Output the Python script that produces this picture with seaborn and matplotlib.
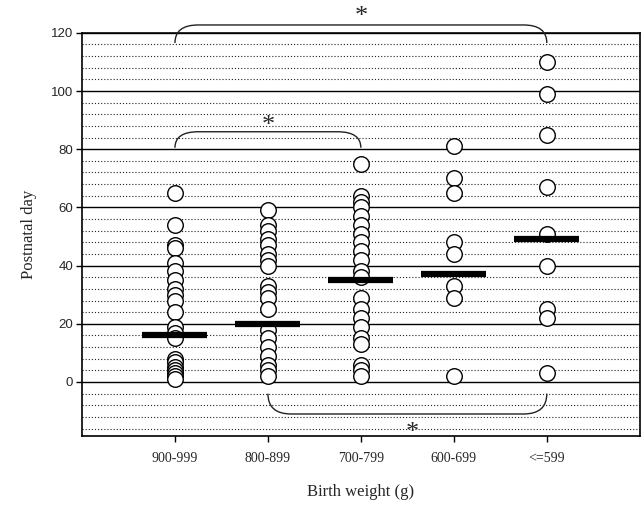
#Dias pós-natais por grupo de peso ao nascer
import numpy as np
import pandas as pd
import matplotlib.pyplot as plt
import seaborn as sb
from matplotlib.path import Path
from matplotlib.patches import PathPatch

#Dados
grupos = ['900-999', '800-899', '700-799', '600-699', '<=599']
dias_900 = [65, 54, 47, 46, 41, 38, 35, 32, 30, 28, 24, 19, 17, 15, 8, 7, 5, 4, 3, 2, 1]
dias_800 = [59, 54, 52, 49, 47, 44, 42, 40, 33, 31, 29, 25, 18, 15, 12, 9, 6, 4, 2]
dias_700 = [75, 64, 62, 60, 57, 54, 51, 48, 45, 42, 38, 36, 29, 25, 22, 19, 15, 13, 6, 4, 2]
dias_600 = [81, 70, 65, 48, 44, 33, 29, 2]
dias_599 = [110, 99, 85, 67, 51, 40, 25, 22, 3]
medianas = [16, 20, 35, 37, 49]

todos = [dias_900, dias_800, dias_700, dias_600, dias_599]
df = pd.DataFrame({
    'grupo': [g for g, d in zip(grupos, todos) for _ in d],
    'dia': [v for d in todos for v in d],
})

sb.set_style('white')
plt.rcParams['font.family'] = ['Liberation Serif', 'DejaVu Serif']

fig, ax = plt.subplots(figsize=(6.43, 5.05), dpi=100)
fig.subplots_adjust(left=0.1275, right=0.995, bottom=0.137, top=0.935)

sb.stripplot(data=df, x='grupo', y='dia', order=grupos, jitter=False,
             color='white', edgecolor='black', linewidth=1, size=11.2,
             ax=ax, zorder=3)

#Barras das medianas
pos = np.arange(len(grupos))
ax.hlines(medianas, pos - 0.35, pos + 0.35, colors='black', linewidth=4.5, zorder=4)

ax.set_xlim(-1, 5)
ax.set_ylim(-18.5, 120)
ax.set_yticks(range(0, 121, 20))
ax.set_yticks(np.arange(-16, 121, 4), minor=True)
ax.yaxis.grid(True, which='major', color='black', linewidth=1)
ax.yaxis.grid(True, which='minor', color='#222222', linestyle=(0, (1, 1.8)), linewidth=0.8)
ax.set_axisbelow(True)

ax.tick_params(axis='y', which='minor', length=0)
ax.tick_params(axis='both', which='major', direction='out', length=4.5, width=1,
               color='black', left=True, bottom=True)
ax.tick_params(axis='y', pad=2, labelsize=9.5)
ax.tick_params(axis='x', pad=7, labelsize=10)
for lab in ax.get_yticklabels():
    lab.set_family('Liberation Sans')

for s in ax.spines.values():
    s.set_color('black')
    s.set_linewidth(1.2)

ax.set_xlabel('Birth weight (g)', fontsize=12, labelpad=14)
ax.set_ylabel('Postnatal day', fontsize=12, labelpad=10)

#Chavetas de significância
def chave(x0, x1, y_lin, y_ponta, dx=0.25):
    verts = [(x0, y_ponta), (x0, y_lin), (x0 + dx, y_lin),
             (x1 - dx, y_lin), (x1, y_lin), (x1, y_ponta)]
    codes = [Path.MOVETO, Path.CURVE3, Path.CURVE3,
             Path.LINETO, Path.CURVE3, Path.CURVE3]
    ax.add_patch(PathPatch(Path(verts, codes), fill=False, edgecolor='#222222',
                           linewidth=1, clip_on=False, zorder=5))

chave(0, 4, 122.7, 116.5)
chave(0, 2, 86, 80.5)
chave(1, 4, -11, -4)

ax.text(2, 125.3, '*', fontsize=19, ha='center', va='center', clip_on=False)
ax.text(1, 88, '*', fontsize=19, ha='center', va='center')
ax.text(2.55, -17.5, '*', fontsize=19, ha='center', va='center')

plt.savefig('out.png', dpi=100)
